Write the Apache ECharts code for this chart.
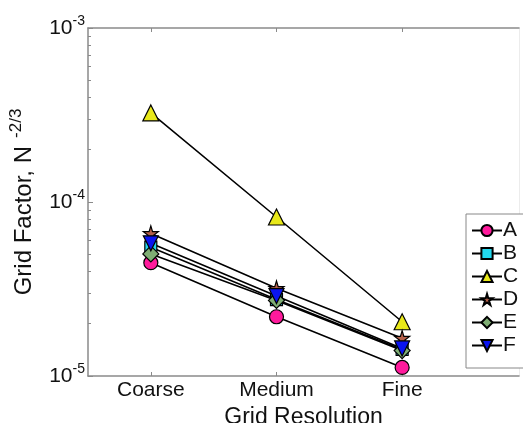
<!DOCTYPE html>
<html><head><meta charset="utf-8">
<script src="https://cdn.jsdelivr.net/npm/echarts@6/dist/echarts.min.js"></script>
<style>html,body{margin:0;padding:0;background:#fff}#c{width:523px;height:423px}</style>
</head><body><div id="c"></div>
<script>
const categories = ['Coarse', 'Medium', 'Fine'];
const seriesNames = ['A', 'B', 'C', 'D', 'E', 'F'];
const valuesA = [4.48e-5, 2.19e-5, 1.12e-5];
const valuesB = [5.5e-5, 2.75e-5, 1.42e-5];
const valuesC = [3.25e-4, 8.2e-5, 2.05e-5];
const valuesD = [6.6e-5, 3.19e-5, 1.65e-5];
const valuesE = [5.03e-5, 2.72e-5, 1.40e-5];
const valuesF = [5.79e-5, 2.88e-5, 1.44e-5];
const yMajorTicks = [1e-5, 1e-4, 1e-3];
const yMinorTicks = [2e-5,3e-5,4e-5,5e-5,6e-5,7e-5,8e-5,9e-5,2e-4,3e-4,4e-4,5e-4,6e-4,7e-4,8e-4,9e-4];

const FONT = 'Liberation Sans, Arial, sans-serif';
const STAR = 'path://M50,0 L61,35 L98,35 L68,57 L79,91 L50,70 L21,91 L32,57 L2,35 L39,35 Z';
const styles = {
  A: {symbol: 'circle', size: 14, color: '#ff1a9c', rot: 0},
  B: {symbol: 'rect', size: 12, color: '#22d8ee', rot: 0},
  C: {symbol: 'triangle', size: 16, color: '#e8e81a', rot: 0},
  D: {symbol: STAR, size: 15, color: '#b4604a', rot: 0},
  E: {symbol: 'diamond', size: 16, color: '#7fae74', rot: 0},
  F: {symbol: 'triangle', size: 15, color: '#0a14f0', rot: 180}
};
const allValues = {A: valuesA, B: valuesB, C: valuesC, D: valuesD, E: valuesE, F: valuesF};

const axisColor = '#8a8a8a';
const xMin = 0.5, xMax = 3.93;

const series = seriesNames.map(n => ({
  name: n,
  type: 'line',
  xAxisIndex: 0, yAxisIndex: 0,
  data: allValues[n].map((v, i) => [i + 1, v]),
  symbol: styles[n].symbol,
  symbolSize: styles[n].size,
  symbolRotate: styles[n].rot,
  lineStyle: {color: '#000', width: 1.6},
  itemStyle: {color: styles[n].color, borderColor: '#000', borderWidth: 1.2},
  emphasis: {disabled: true},
  animation: false
}));

const chart = echarts.init(document.getElementById('c'), null, {renderer: 'canvas'});
chart.setOption({
  backgroundColor: '#fff',
  animation: false,
  textStyle: {fontFamily: FONT},
  grid: {left: 88, right: 4, top: 28, bottom: 47, containLabel: false, outerBoundsMode: 'none'},
  legend: {
    orient: 'vertical',
    left: 466, top: 214,
    data: seriesNames,
    itemWidth: 30, itemHeight: 14,
    itemGap: 2,
    padding: [6, 8, 12, 5],
    borderColor: '#888', borderWidth: 1,
    backgroundColor: '#fff',
    textStyle: {fontSize: 21, color: '#111', fontFamily: FONT, padding: [0, 0, 0, -4]},
  },
  xAxis: [{
    type: 'value', min: xMin, max: xMax, position: 'bottom',
    axisLine: {show: true, lineStyle: {color: axisColor, width: 1.5}},
    axisTick: {show: true, inside: true, length: 4, customValues: [1, 2, 3], lineStyle: {color: axisColor}},
    axisLabel: {customValues: [1, 2, 3], formatter: v => categories[Math.round(v) - 1] || '', fontSize: 21, color: '#111', margin: 4, fontFamily: FONT},
    splitLine: {show: false},
    name: 'Grid Resolution', nameLocation: 'middle', nameGap: 24,
    nameTextStyle: {fontSize: 23, color: '#111', fontFamily: FONT}
  }, {
    type: 'value', min: xMin, max: xMax, position: 'top',
    axisLine: {show: true, lineStyle: {color: axisColor, width: 1.5}},
    axisTick: {show: true, inside: true, length: 4, customValues: [1, 2, 3], lineStyle: {color: axisColor}},
    axisLabel: {show: false}, splitLine: {show: false}
  }],
  yAxis: [{
    type: 'log', logBase: 10, min: 1e-5, max: 1e-3, position: 'left',
    axisLine: {show: true, lineStyle: {color: axisColor, width: 1.5}},
    axisTick: {show: true, inside: true, length: 5, customValues: yMajorTicks, lineStyle: {color: axisColor}},
    axisLabel: {
      customValues: yMajorTicks, margin: 3,
      formatter: v => '{b|10}{s|' + Math.round(Math.log10(v)) + '}',
      rich: {
        b: {fontSize: 21, color: '#111', fontFamily: FONT},
        s: {fontSize: 14, color: '#111', fontFamily: FONT, padding: [0, 0, 13, 0]}
      }
    },
    splitLine: {show: false},
    name: '{m|Grid Factor, N}{s|-2/3}',
    nameLocation: 'middle', nameRotate: 90, nameGap: 47,
    nameTextStyle: {
      rich: {
        m: {fontSize: 24, color: '#111', fontFamily: FONT},
        s: {fontSize: 17, color: '#111', fontFamily: FONT, padding: [0, 0, 16, 8]}
      }
    }
  }, {
    type: 'log', logBase: 10, min: 1e-5, max: 1e-3, position: 'left',
    axisLine: {show: false},
    axisTick: {show: true, inside: true, length: 3, customValues: yMinorTicks, lineStyle: {color: axisColor}},
    axisLabel: {show: false}, splitLine: {show: false}
  }, {
    type: 'log', logBase: 10, min: 1e-5, max: 1e-3, position: 'right',
    axisLine: {show: true, lineStyle: {color: '#ececec', width: 1}},
    axisTick: {show: false}, axisLabel: {show: false}, splitLine: {show: false}
  }],
  series: series
});
</script></body></html>
